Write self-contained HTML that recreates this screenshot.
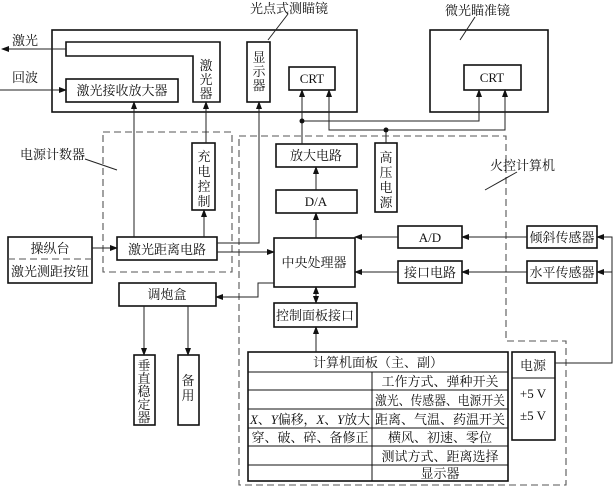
<!DOCTYPE html>
<html><head><meta charset="utf-8"><style>
html,body{margin:0;padding:0;background:#fff}
svg{display:block}
text{font-family:"Liberation Serif","Noto Serif CJK SC","Noto Sans CJK SC",serif;font-size:13px;fill:#111}
</style></head><body>
<svg width="614" height="489" viewBox="0 0 614 489" xmlns="http://www.w3.org/2000/svg">
<defs>
<marker id="a" markerWidth="8" markerHeight="6" refX="7" refY="3" orient="auto" markerUnits="userSpaceOnUse"><path d="M0,0 L8,3 L0,6 z" fill="#111"/></marker>
<marker id="s" markerWidth="8" markerHeight="6" refX="1" refY="3" orient="auto" markerUnits="userSpaceOnUse"><path d="M8,0 L0,3 L8,6 z" fill="#111"/></marker>
</defs>
<g fill="none" stroke="#111" stroke-width="1.6">
<rect x="52" y="30" width="305" height="82"/>
<path d="M66,42 H220 V102 H193 V56 H66 Z"/>
<rect x="66" y="79" width="112" height="23"/>
<rect x="247" y="42" width="23" height="60"/>
<rect x="289" y="67" width="46" height="23"/>
<rect x="430" y="30" width="118" height="82"/>
<rect x="464" y="65" width="57" height="25"/>
<rect x="192" y="143" width="23" height="67"/>
<rect x="8" y="237" width="84" height="46"/>
<rect x="117" y="237" width="100" height="23"/>
<rect x="119" y="283" width="97" height="23"/>
<rect x="134" y="355" width="21" height="70"/>
<rect x="178" y="355" width="21" height="70"/>
<rect x="276" y="144" width="81" height="23"/>
<rect x="276" y="190" width="81" height="23"/>
<rect x="375" y="143" width="22" height="69"/>
<rect x="274" y="238" width="81" height="49"/>
<rect x="398" y="226" width="64" height="22"/>
<rect x="398" y="261" width="64" height="22"/>
<rect x="527" y="226" width="70" height="22"/>
<rect x="527" y="261" width="70" height="22"/>
<rect x="274" y="303" width="83" height="24"/>
<rect x="512" y="352" width="43" height="88"/>
<rect x="248" y="352" width="260" height="129"/>
</g>
<g fill="none" stroke="#111" stroke-width="1">
<line x1="512" y1="378" x2="555" y2="378"/>
<path d="M248,372 H508 M248,390 H508 M248,409 H508 M248,428 H508 M248,446 H508 M248,465 H508 M372,372 V481"/>
</g>
<g fill="none" stroke="#555" stroke-width="1.1" stroke-dasharray="7,4">
<line x1="8" y1="259" x2="92" y2="259"/>
<rect x="103" y="132" width="129" height="140"/>
<path d="M239,136 H506 V341 H566 V485 H239 Z"/>
</g>
<g fill="none" stroke="#222" stroke-width="1">
<line x1="66" y1="49" x2="2" y2="49" marker-end="url(#a)"/>
<line x1="0" y1="90" x2="66" y2="90" marker-end="url(#a)"/>
<line x1="134" y1="237" x2="134" y2="102" marker-end="url(#a)"/>
<line x1="206" y1="143" x2="206" y2="102" marker-end="url(#a)"/>
<path d="M217,243 H259 V102" marker-end="url(#a)"/>
<line x1="204" y1="237" x2="204" y2="210" marker-end="url(#a)"/>
<line x1="92" y1="248" x2="117" y2="248" marker-end="url(#a)"/>
<line x1="217" y1="252" x2="274" y2="252" marker-end="url(#a)"/>
<path d="M274,283 H258 V297 H216" marker-end="url(#a)"/>
<line x1="144" y1="306" x2="144" y2="355" marker-end="url(#a)"/>
<line x1="188" y1="306" x2="188" y2="355" marker-end="url(#a)"/>
<line x1="316" y1="238" x2="316" y2="213" marker-end="url(#a)"/>
<line x1="316" y1="190" x2="316" y2="167" marker-end="url(#a)"/>
<line x1="302" y1="144" x2="302" y2="90" marker-end="url(#a)"/>
<path d="M302,121 H479 V90" marker-end="url(#a)"/>
<path d="M386,130 H329 V90" marker-end="url(#a)"/>
<path d="M386,130 H505 V90" marker-end="url(#a)"/>
<line x1="386" y1="130" x2="386" y2="143"/>
<line x1="398" y1="237" x2="355" y2="237" marker-end="url(#a)"/>
<line x1="398" y1="272" x2="355" y2="272" marker-end="url(#a)"/>
<line x1="527" y1="237" x2="462" y2="237" marker-end="url(#a)"/>
<line x1="527" y1="272" x2="462" y2="272" marker-end="url(#a)"/>
<path d="M555,363 H612 V237 H597" marker-end="url(#a)"/>
<line x1="612" y1="272" x2="597" y2="272" marker-end="url(#a)"/>
<line x1="316" y1="287" x2="316" y2="303" marker-start="url(#s)" marker-end="url(#a)"/>
<line x1="316" y1="352" x2="316" y2="327" marker-end="url(#a)"/>
<line x1="288" y1="14" x2="268" y2="40"/>
<line x1="475" y1="17" x2="460" y2="40"/>
<line x1="85" y1="159" x2="117" y2="170"/>
<line x1="517" y1="172" x2="485" y2="190"/>
</g>
<circle cx="302" cy="121" r="2.5" fill="#111"/>
<circle cx="386" cy="130" r="2.5" fill="#111"/>
<text x="250" y="13">光点式测瞄镜</text>
<text x="445" y="15">微光瞄准镜</text>
<text x="12" y="45">激光</text>
<text x="12" y="82">回波</text>
<text x="122" y="95" text-anchor="middle">激光接收放大器</text>
<text x="206" y="70" text-anchor="middle">激</text><text x="206" y="84" text-anchor="middle">光</text><text x="206" y="98" text-anchor="middle">器</text>
<text x="259" y="62" text-anchor="middle">显</text><text x="259" y="76" text-anchor="middle">示</text><text x="259" y="90" text-anchor="middle">器</text>
<text x="312" y="83" text-anchor="middle">CRT</text>
<text x="492" y="82" text-anchor="middle">CRT</text>
<text x="20" y="159">电源计数器</text>
<text x="490" y="170">火控计算机</text>
<text x="204" y="161" text-anchor="middle">充</text><text x="204" y="176" text-anchor="middle">电</text><text x="204" y="191" text-anchor="middle">控</text><text x="204" y="206" text-anchor="middle">制</text>
<text x="316" y="160" text-anchor="middle">放大电路</text>
<text x="316" y="206" text-anchor="middle">D/A</text>
<text x="386" y="162" text-anchor="middle">高</text><text x="386" y="177" text-anchor="middle">压</text><text x="386" y="192" text-anchor="middle">电</text><text x="386" y="207" text-anchor="middle">源</text>
<text x="50" y="253" text-anchor="middle">操纵台</text>
<text x="50" y="276" text-anchor="middle">激光测距按钮</text>
<text x="167" y="254" text-anchor="middle">激光距离电路</text>
<text x="314" y="267" text-anchor="middle">中央处理器</text>
<text x="430" y="242" text-anchor="middle">A/D</text>
<text x="430" y="277" text-anchor="middle">接口电路</text>
<text x="562" y="242" text-anchor="middle">倾斜传感器</text>
<text x="562" y="277" text-anchor="middle">水平传感器</text>
<text x="167" y="299" text-anchor="middle">调炮盒</text>
<text x="315" y="320" text-anchor="middle">控制面板接口</text>
<text x="144" y="370" text-anchor="middle">垂</text><text x="144" y="383" text-anchor="middle">直</text><text x="144" y="396" text-anchor="middle">稳</text><text x="144" y="409" text-anchor="middle">定</text><text x="144" y="422" text-anchor="middle">器</text>
<text x="188" y="385" text-anchor="middle">备</text><text x="188" y="400" text-anchor="middle">用</text>
<text x="533" y="370" text-anchor="middle">电源</text>
<text x="533" y="398" text-anchor="middle">+5 V</text>
<text x="533" y="420" text-anchor="middle">±5 V</text>
<g style="font-size:12px">
<text x="378" y="367" text-anchor="middle">计算机面板（主、副）</text>
<text x="440" y="386" text-anchor="middle">工作方式、弹种开关</text>
<text x="440" y="405" text-anchor="middle" textLength="130" lengthAdjust="spacingAndGlyphs">激光、传感器、电源开关</text>
<text x="310" y="424" text-anchor="middle" textLength="120" lengthAdjust="spacingAndGlyphs"><tspan font-style="italic">X</tspan>、<tspan font-style="italic">Y</tspan>偏移，<tspan font-style="italic">X</tspan>、<tspan font-style="italic">Y</tspan>放大</text>
<text x="440" y="424" text-anchor="middle">距离、气温、药温开关</text>
<text x="310" y="442" text-anchor="middle">穿、破、碎、备修正</text>
<text x="440" y="442" text-anchor="middle">横风、初速、零位</text>
<text x="440" y="461" text-anchor="middle">测试方式、距离选择</text>
<text x="440" y="478" text-anchor="middle">显示器</text>
</g>
</svg>
</body></html>
